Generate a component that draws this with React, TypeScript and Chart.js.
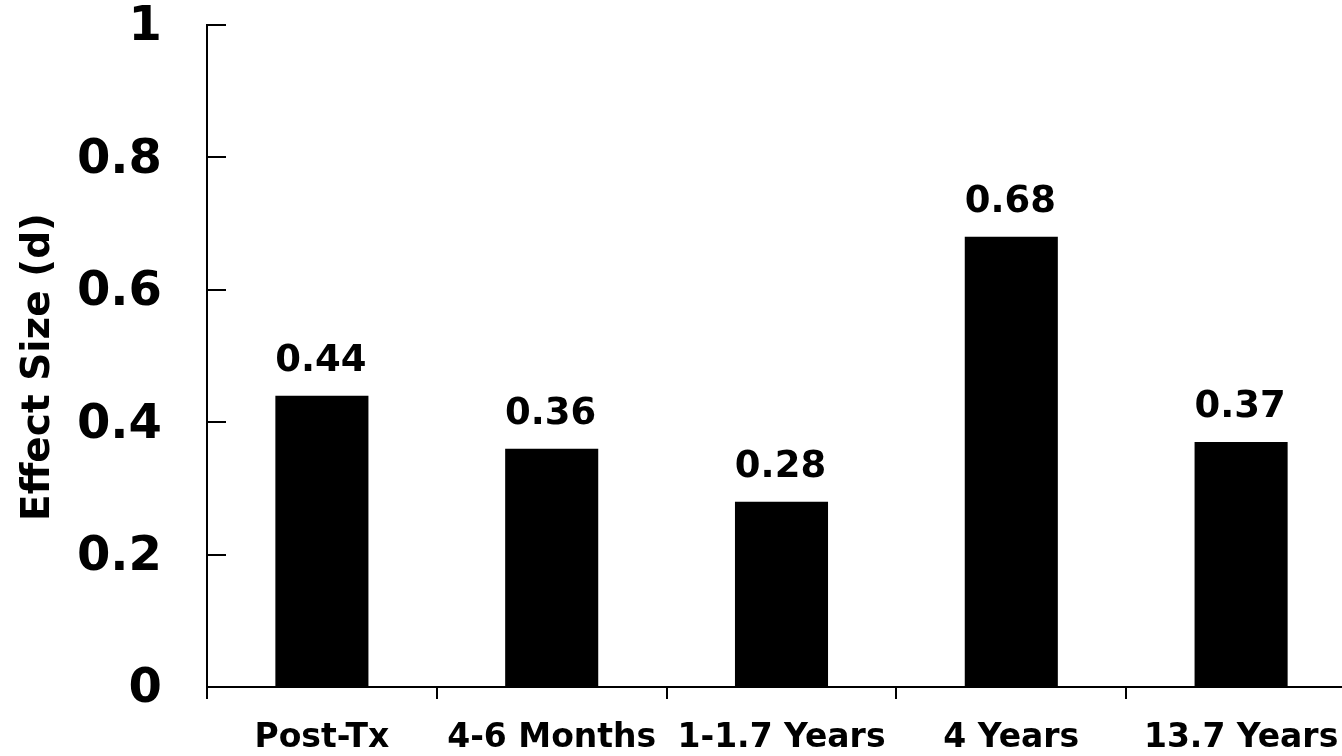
import { useEffect, useRef } from "react";
import { Chart, registerables } from "chart.js";

Chart.register(...registerables);

const categories = ["Post-Tx", "4-6 Months", "1-1.7 Years", "4 Years", "13.7 Years"];
const effectSizes = [0.44, 0.36, 0.28, 0.68, 0.37];
const yTickValues = [0, 0.2, 0.4, 0.6, 0.8, 1];
const yTitle = "Effect Size (d)";

const FONT = "'DejaVu Sans', Verdana, sans-serif";

export default function App() {
  const canvasRef = useRef<HTMLCanvasElement>(null);

  useEffect(() => {
    const canvas = canvasRef.current;
    if (!canvas) return;

    // Short tick marks drawn inward from the value axis
    const innerTicks = {
      id: "innerTicks",
      afterDraw(chart: any) {
        const { ctx, chartArea, scales } = chart;
        ctx.save();
        ctx.strokeStyle = "#000";
        ctx.lineWidth = 2;
        yTickValues.forEach((v) => {
          const py = Math.round(scales.y.getPixelForValue(v));
          ctx.beginPath();
          ctx.moveTo(chartArea.left, py);
          ctx.lineTo(chartArea.left + 19, py);
          ctx.stroke();
        });
        ctx.restore();
      },
    };

    // Rotated value-axis title, centred a little below the plot's middle
    const axisTitle = {
      id: "axisTitle",
      afterDraw(chart: any) {
        const { ctx, chartArea } = chart;
        const cy = (chartArea.top + chartArea.bottom) / 2 + 11;
        ctx.save();
        ctx.translate(39, cy);
        ctx.rotate(-Math.PI / 2);
        ctx.fillStyle = "#000";
        ctx.font = `bold 39px ${FONT}`;
        ctx.textAlign = "center";
        ctx.textBaseline = "middle";
        ctx.fillText(yTitle, 0, 0);
        ctx.restore();
      },
    };

    // Value printed above each bar
    const valueLabels = {
      id: "valueLabels",
      afterDatasetsDraw(chart: any) {
        const { ctx } = chart;
        const meta = chart.getDatasetMeta(0);
        ctx.save();
        ctx.fillStyle = "#000";
        ctx.font = `bold 37px ${FONT}`;
        ctx.textAlign = "center";
        ctx.textBaseline = "alphabetic";
        meta.data.forEach((bar: any, i: number) => {
          ctx.fillText(effectSizes[i].toFixed(2), bar.x - 1, bar.y - 25);
        });
        ctx.restore();
      },
    };

    const chart = new Chart(canvas, {
      type: "bar",
      data: {
        labels: categories,
        datasets: [
          {
            data: effectSizes,
            backgroundColor: "#000",
            borderWidth: 0,
            categoryPercentage: 1,
            barPercentage: 0.405,
          },
        ],
      },
      options: {
        responsive: false,
        animation: false,
        devicePixelRatio: 1,
        layout: { padding: { top: 25, left: 0, right: 0, bottom: 0 } },
        plugins: {
          legend: { display: false },
          tooltip: { enabled: false },
        },
        scales: {
          x: {
            offset: true,
            grid: {
              offset: true,
              drawOnChartArea: false,
              drawTicks: true,
              tickLength: 12,
              color: "#000",
              lineWidth: 2,
            },
            border: { display: true, color: "#000", width: 2 },
            ticks: {
              color: "#000",
              font: { family: FONT, size: 33, weight: "bold" },
              padding: 20,
              autoSkip: false,
              maxRotation: 0,
              minRotation: 0,
            },
            afterFit(scale: any) {
              scale.height = 69;
              scale.paddingLeft = 0;
              scale.paddingRight = 0;
            },
          },
          y: {
            min: 0,
            max: 1,
            grid: { drawOnChartArea: false, drawTicks: false },
            border: { display: true, color: "#000", width: 2 },
            ticks: {
              stepSize: 0.2,
              color: "#000",
              padding: 45,
              labelOffset: 3,
              font: { family: FONT, size: 48, weight: "bold" },
              callback: (v: any) => String(Math.round(Number(v) * 10) / 10),
            },
            title: { display: false },
            afterFit(scale: any) {
              scale.width = 207;
              scale.paddingTop = 0;
              scale.paddingBottom = 0;
            },
          },
        },
      },
      plugins: [innerTicks, axisTitle, valueLabels],
    });

    return () => chart.destroy();
  }, []);

  return (
    <div
      style={{
        position: "fixed",
        left: 0,
        top: 0,
        width: 1342,
        height: 756,
        overflow: "hidden",
        background: "#fff",
      }}
    >
      <canvas ref={canvasRef} width={1356} height={756} style={{ display: "block" }} />
    </div>
  );
}
